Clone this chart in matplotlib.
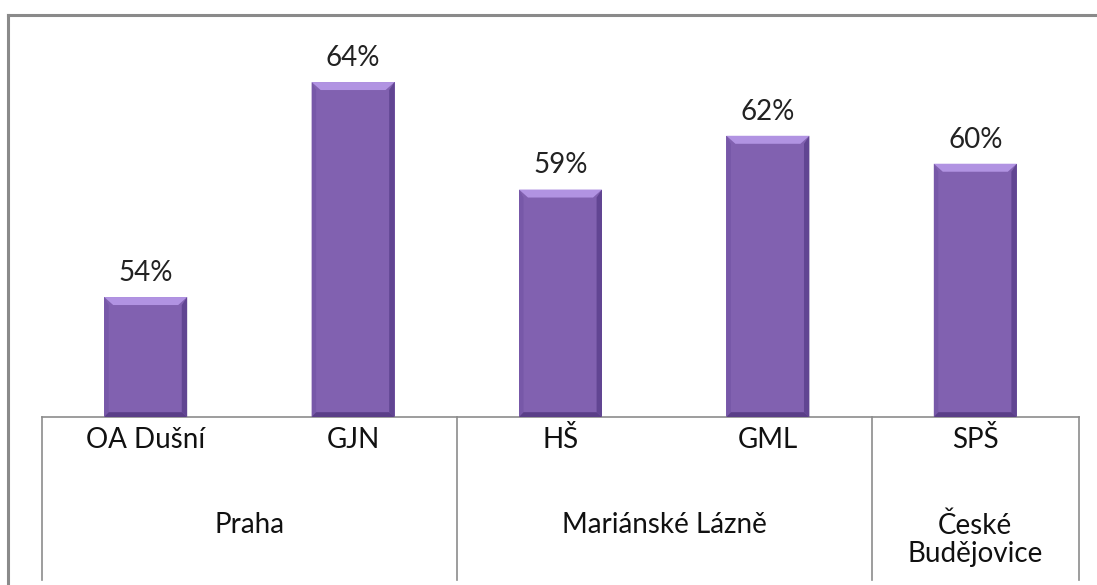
import matplotlib.pyplot as plt
from matplotlib.patches import Polygon
from matplotlib.lines import Line2D

plt.rcParams['font.family'] = ['Lato', 'DejaVu Sans']

schools = ['OA Dušní', 'GJN', 'HŠ', 'GML', 'SPŠ']
values = [54.0, 64.0, 59.0, 61.5, 60.2]
cities = ['Praha', 'Mariánské Lázně', 'České\nBudějovice']
city_sizes = [2, 2, 1]

W, H = 1097, 585
fig = plt.figure(figsize=(W / 100, H / 100), dpi=100)

# axes placement in pixels
left_px, right_px, base_px, top_px = 42, 1079, 417, 20
ax_h = base_px - top_px
ax = fig.add_axes([left_px / W, 1 - base_px / H,
                   (right_px - left_px) / W, ax_h / H])

x = list(range(len(schools)))
ymin = 48.42
px_per_unit = 21.5
ymax = ymin + ax_h / px_per_unit
ax.set_xlim(-0.5, len(schools) - 0.5)
ax.set_ylim(ymin, ymax)

bar_w = 0.40
bars = ax.bar(x, [v - ymin for v in values], bottom=ymin, width=bar_w,
              color='#8161B0', edgecolor='none', zorder=2)

# bevel shading
dx = len(schools) / (right_px - left_px)   # data per px in x
dy = 1 / px_per_unit                        # data per px in y
for b in bars:
    x0, x1 = b.get_x(), b.get_x() + b.get_width()
    y0, y1 = ymin, b.get_y() + b.get_height()
    bx, by = 9 * dx, 8 * dy
    ax.add_patch(Polygon([(x0, y1), (x1, y1), (x1 - bx, y1 - by), (x0 + bx, y1 - by)],
                         closed=True, color='#B193E2', lw=0, zorder=3))
    ax.add_patch(Polygon([(x0, y1), (x0 + bx * 0.5, y1 - by), (x0 + bx * 0.5, y0 + by * 0.6), (x0, y0)],
                         closed=True, color='#7758A8', lw=0, zorder=3))
    ax.add_patch(Polygon([(x1, y1), (x1 - bx * 0.6, y1 - by), (x1 - bx * 0.6, y0 + by * 0.6), (x1, y0)],
                         closed=True, color='#614592', lw=0, zorder=3))
    ax.add_patch(Polygon([(x0, y0), (x1, y0), (x1 - bx * 0.6, y0 + by * 0.6), (x0 + bx * 0.5, y0 + by * 0.6)],
                         closed=True, color='#5A3E88', lw=0, zorder=3))
    ax.annotate(f'{y1:.0f}%', xy=(b.get_x() + b.get_width() / 2, y1), xytext=(0, 8),
                textcoords='offset points', ha='center', va='bottom',
                fontsize=20, color='#222222')

for s in ['top', 'left', 'right']:
    ax.spines[s].set_visible(False)
ax.spines['bottom'].set_color('#8C8C8C')
ax.spines['bottom'].set_linewidth(1.2)
ax.set_xticks([])
ax.set_yticks([])

# category labels (two levels)
bt = ax.get_xaxis_transform()
for xi, name in zip(x, schools):
    ax.text(xi, -(440 - base_px) / ax_h, name, transform=bt,
            ha='center', va='center', fontsize=20, color='#111111')

start = -0.5
bounds = [start]
for name, n in zip(cities, city_sizes):
    centre = start + n / 2
    ax.text(centre, -(512 - base_px) / ax_h, name, transform=bt,
            ha='center', va='top', fontsize=20, color='#111111', linespacing=1.12)
    start += n
    bounds.append(start)

low = -(580 - base_px) / ax_h
for bnd in bounds:
    ax.add_line(Line2D([bnd, bnd], [0, low], transform=bt, color='#8C8C8C',
                       lw=1.2, clip_on=False))

# outer chart frame (cropped at right and bottom)
fig.add_artist(Line2D([8 / W, 1], [1 - 15 / H, 1 - 15 / H], color='#8A8A8A', lw=2.2))
fig.add_artist(Line2D([8 / W, 8 / W], [1 - 15 / H, 0], color='#8A8A8A', lw=2.2))

fig.savefig('out.png', dpi=100)
